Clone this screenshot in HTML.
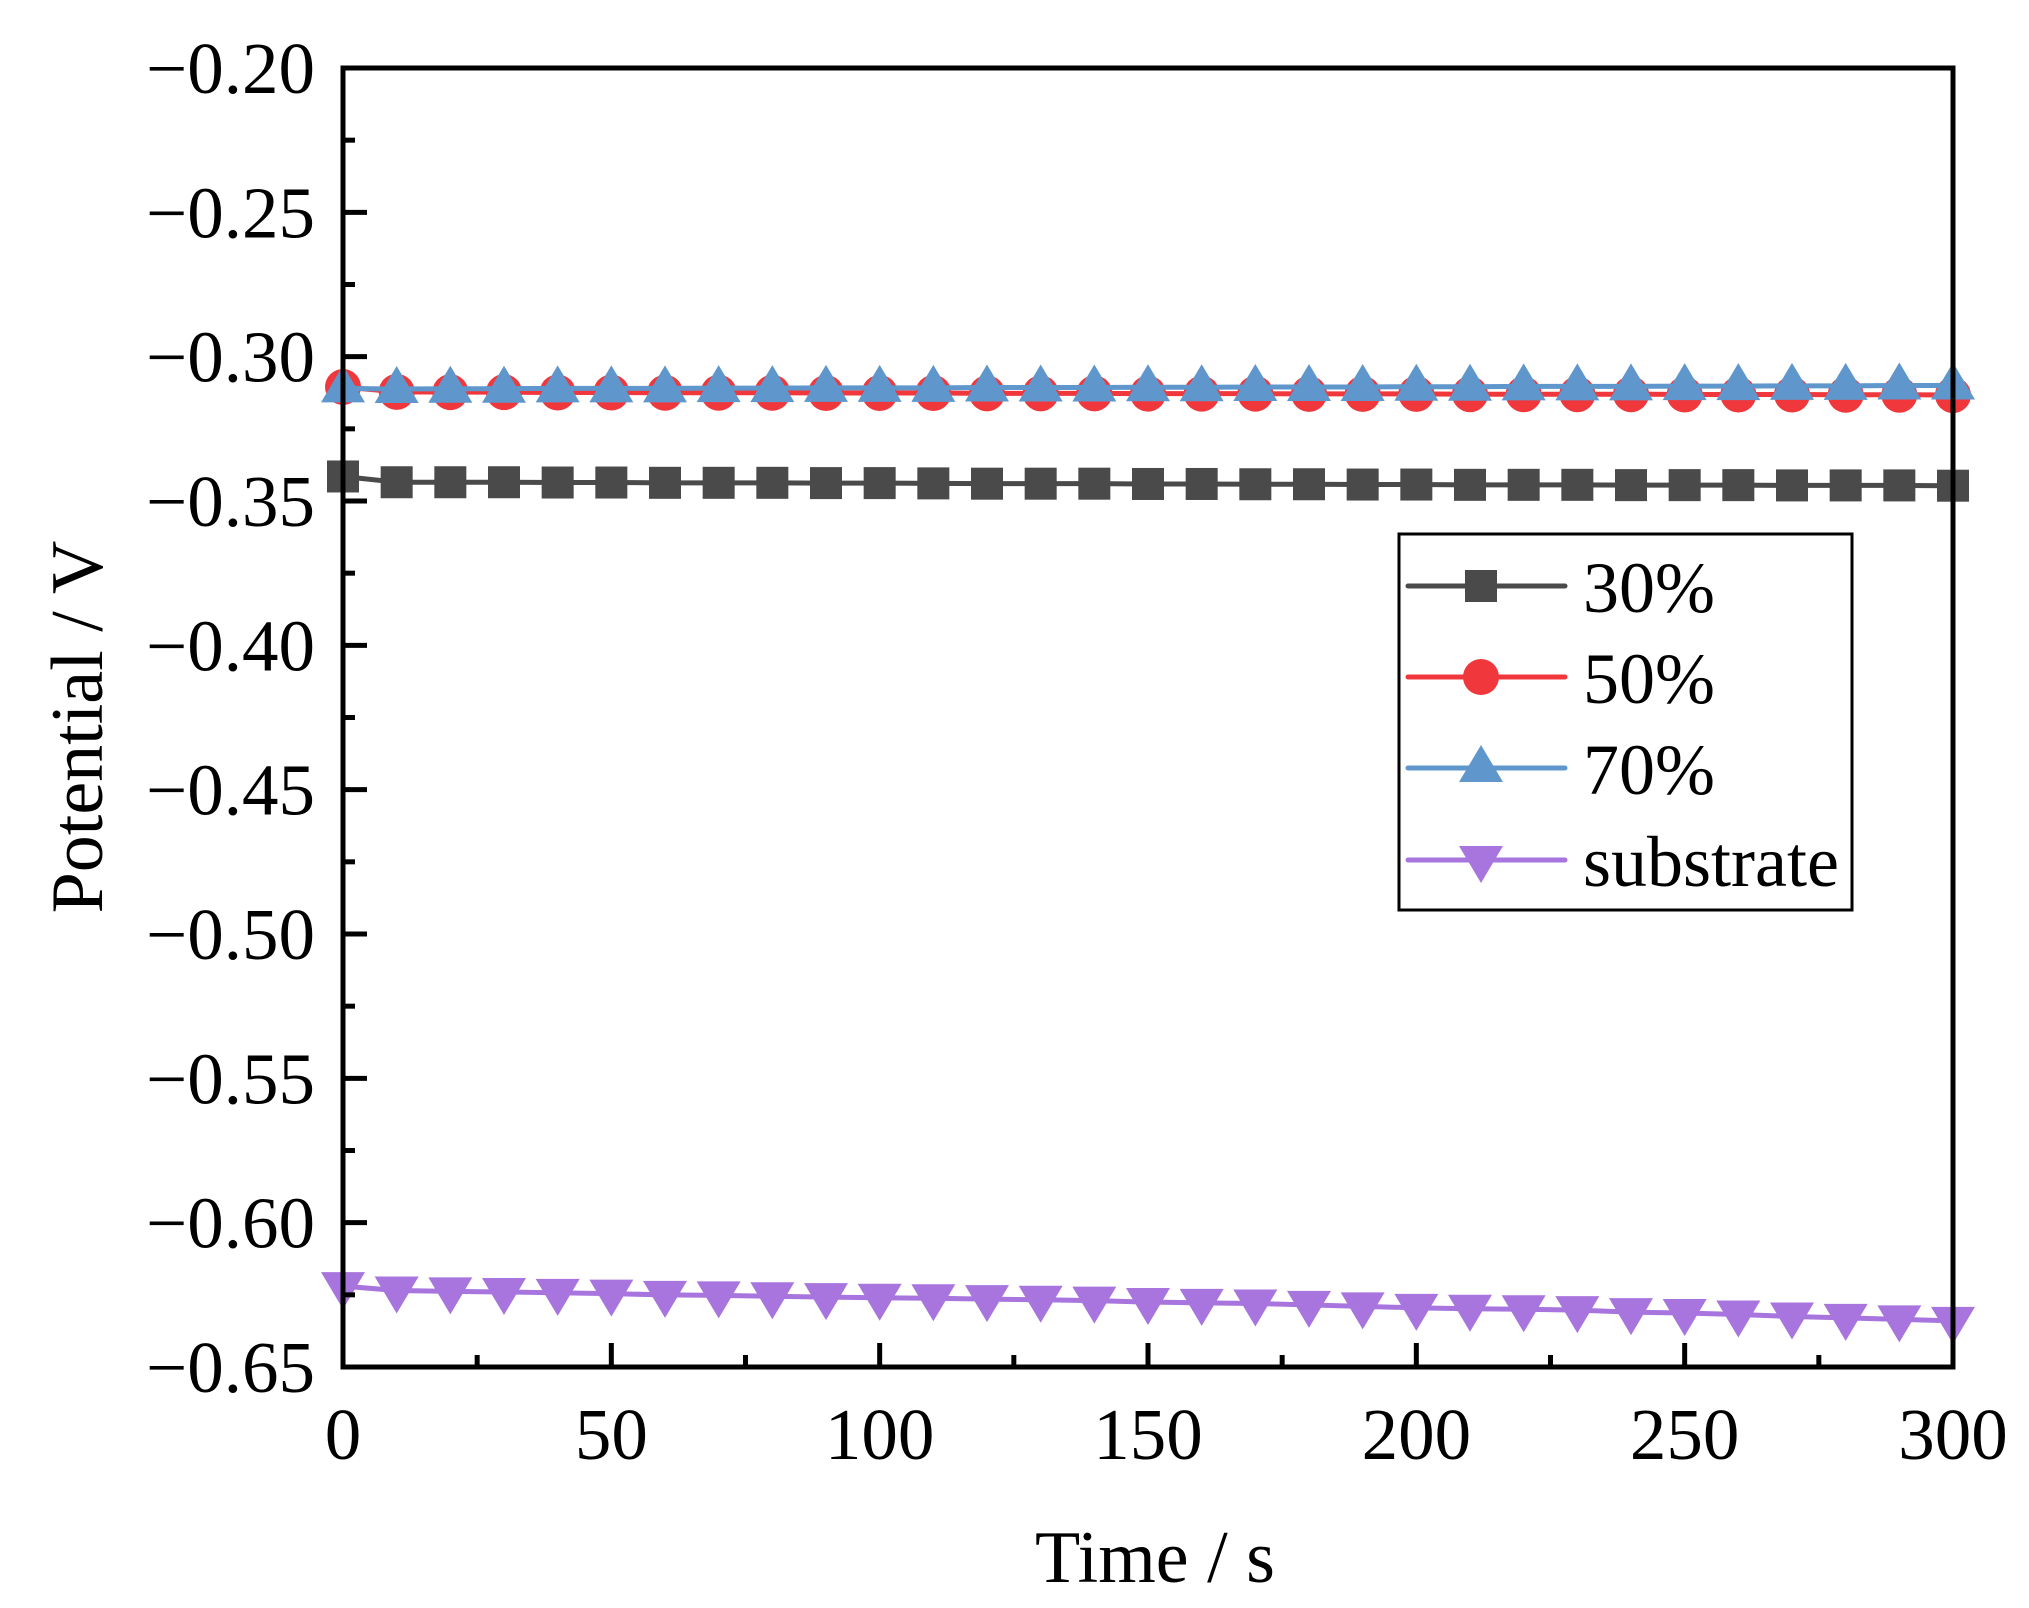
<!DOCTYPE html>
<html><head><meta charset="utf-8"><style>
html,body{margin:0;padding:0;background:#fff;}
svg{display:block;font-family:"Liberation Serif",serif;}
</style></head><body>
<svg id="chart" width="2029" height="1608" viewBox="0 0 2029 1608" xmlns="http://www.w3.org/2000/svg">
<g id="grid"></g>
<g id="series"></g>
<rect x="343" y="68" width="1610" height="1299" fill="none" stroke="#000" stroke-width="5"/>
<g id="axes"></g>
<text x="1155" y="1582" font-size="74" text-anchor="middle">Time / s</text>
<text transform="translate(102,727) rotate(-90)" font-size="74" text-anchor="middle">Potential / V</text>
<g id="legend"></g>
</svg>
<script>
const times=[0,10,20,30,40,50,60,70,80,90,100,110,120,130,140,150,160,170,180,190,200,210,220,230,240,250,260,270,280,290,300];
const s30=[-0.3415,-0.3435,-0.3435,-0.3435,-0.3436,-0.3436,-0.3437,-0.3437,-0.3437,-0.3438,-0.3438,-0.3439,-0.344,-0.344,-0.344,-0.3441,-0.3441,-0.3442,-0.3442,-0.3443,-0.3443,-0.3444,-0.3444,-0.3444,-0.3445,-0.3445,-0.3445,-0.3446,-0.3446,-0.3446,-0.3447];
const s50=[-0.3105,-0.3122,-0.3123,-0.3123,-0.3124,-0.3124,-0.3125,-0.3125,-0.3125,-0.3126,-0.3126,-0.3126,-0.3127,-0.3127,-0.3127,-0.3128,-0.3128,-0.3128,-0.3129,-0.3129,-0.3129,-0.313,-0.313,-0.313,-0.313,-0.3131,-0.3131,-0.3131,-0.3132,-0.3132,-0.3133];
const s70=[-0.311,-0.3112,-0.3111,-0.3111,-0.311,-0.311,-0.311,-0.3109,-0.3109,-0.3108,-0.3108,-0.3108,-0.3107,-0.3107,-0.3107,-0.3106,-0.3106,-0.3105,-0.3105,-0.3105,-0.3104,-0.3104,-0.3103,-0.3103,-0.3103,-0.3102,-0.3102,-0.3101,-0.3101,-0.31,-0.31];
const sSub=[-0.622,-0.6235,-0.6238,-0.624,-0.6243,-0.6246,-0.625,-0.6252,-0.6255,-0.6258,-0.626,-0.6262,-0.6265,-0.6267,-0.627,-0.6275,-0.6278,-0.628,-0.6285,-0.629,-0.6295,-0.6298,-0.63,-0.6303,-0.631,-0.6313,-0.6318,-0.6325,-0.633,-0.6335,-0.634];
const xTicks=[0,50,100,150,200,250,300];
const yTicks=[-0.20,-0.25,-0.30,-0.35,-0.40,-0.45,-0.50,-0.55,-0.60,-0.65];
const yTickLabels=["\u22120.20","\u22120.25","\u22120.30","\u22120.35","\u22120.40","\u22120.45","\u22120.50","\u22120.55","\u22120.60","\u22120.65"];
const seriesNames=["30%","50%","70%","substrate"];

const L=343,R=1953,T=68,B=1367;
const X=v=>L+(v-0)/(300-0)*(R-L);
const Y=v=>T+(-0.20-v)/(0.45)*(B-T);
const NS="http://www.w3.org/2000/svg";
function mk(tag,attrs,parent){const e=document.createElementNS(NS,tag);for(const k in attrs)e.setAttribute(k,attrs[k]);parent.appendChild(e);return e;}
const axes=document.getElementById('axes');
xTicks.forEach((t,i)=>{
  const l=mk('line',{x1:X(t),x2:X(t),y1:B,y2:B-24,stroke:'#000','stroke-width':5},axes);
  
  
  if(i<xTicks.length-1){const m=mk('line',{x1:X(t+25),x2:X(t+25),y1:B,y2:B-12,stroke:'#000','stroke-width':5},axes);
  
  }
  const tx=mk('text',{x:X(t),y:1459,'font-size':73,'text-anchor':'middle'},axes);
  tx.textContent=String(t);
  
  
});
yTicks.forEach((t,i)=>{
  const l=mk('line',{x1:L,x2:L+24,y1:Y(t),y2:Y(t),stroke:'#000','stroke-width':5},axes);
  
  
  if(i<yTicks.length-1){const m=mk('line',{x1:L,x2:L+12,y1:Y(t-0.025),y2:Y(t-0.025),stroke:'#000','stroke-width':5},axes);
  
  }
  const tx=mk('text',{x:315,y:Y(t)+25,'font-size':73,'text-anchor':'end'},axes);
  tx.textContent=yTickLabels[i];
  
  
});
const colors=["#4a4a4a","#f0383c","#5f96cc","#a775dd"];
const shapes=["square","circle","up","down"];
function marker(shape,cx,cy,c,g){
  let e;
  if(shape==='square')e=mk('rect',{x:cx-16,y:cy-16,width:32,height:32,fill:c},g);
  else if(shape==='circle')e=mk('circle',{cx:cx,cy:cy,r:18,fill:c},g);
  else if(shape==='up')e=mk('polygon',{points:`${cx},${cy-23} ${cx-22},${cy+14} ${cx+22},${cy+14}`,fill:c},g);
  else e=mk('polygon',{points:`${cx},${cy+23} ${cx-22},${cy-14} ${cx+22},${cy-14}`,fill:c},g);
  return e;
}
const sg=document.getElementById('series');
const data=[s30,s50,s70,sSub];
const snames=['series-30pct','series-50pct','series-70pct','series-substrate'];
data.forEach((arr,si)=>{
  const g=mk('g',{},sg);
  
  
  const p=mk('polyline',{points:arr.map((v,i)=>X(times[i])+','+Y(v)).join(' '),fill:'none',stroke:colors[si],'stroke-width':5},g);
  
  
  arr.forEach((v,i)=>{const m=marker(shapes[si],X(times[i]),Y(v),colors[si],g);
    
    });
});
const lg=document.getElementById('legend');
const box=mk('rect',{x:1399,y:534,width:453,height:376,fill:'#fff',stroke:'#000','stroke-width':3},lg);


const rowsY=[586,677,768,860];
seriesNames.forEach((n,i)=>{
  const g=mk('g',{},lg);
  
  
  mk('line',{x1:1408,x2:1565,y1:rowsY[i],y2:rowsY[i],stroke:colors[i],'stroke-width':5,'stroke-linecap':'round'},g);
  marker(shapes[i],1481,rowsY[i],colors[i],g);
  const t=mk('text',{x:1583,y:rowsY[i]+26,'font-size':72},g);
  t.textContent=n;
});
</script>
</body></html>
